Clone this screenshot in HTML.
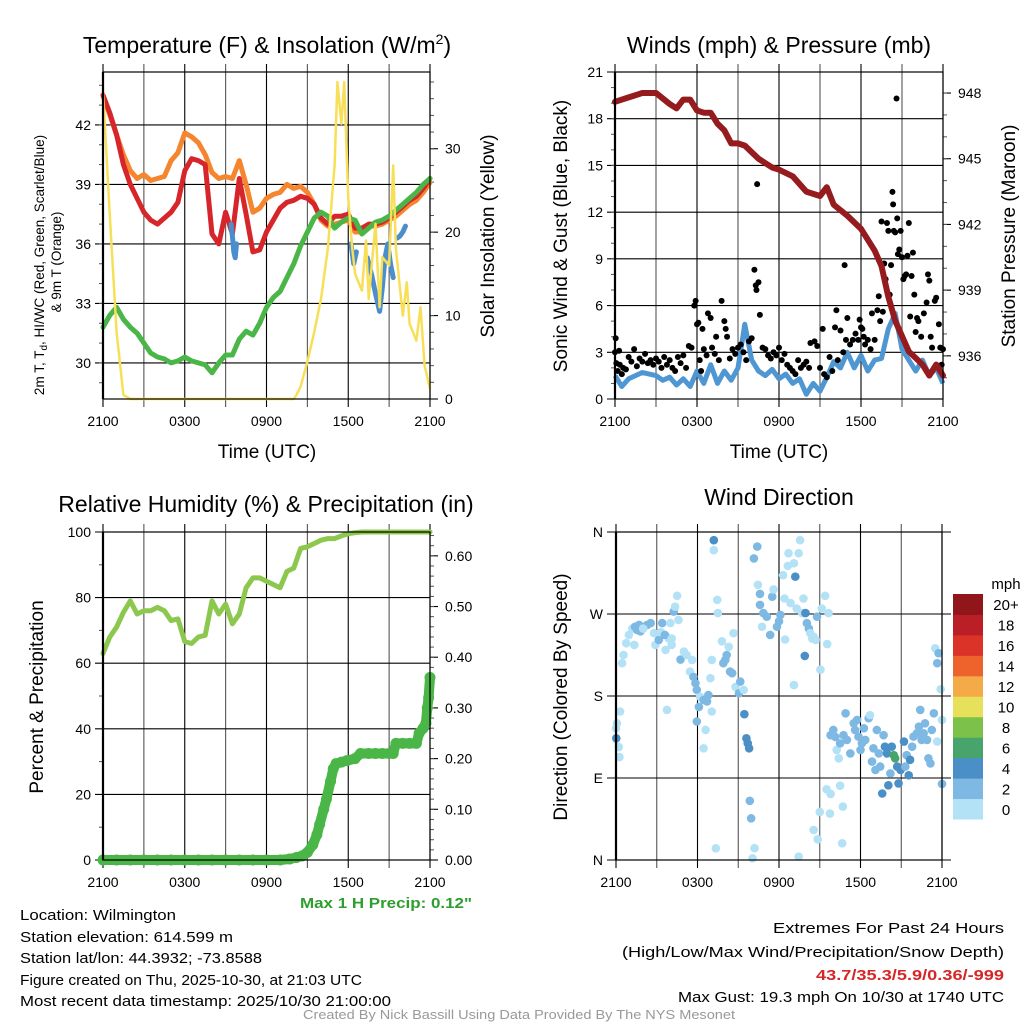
<!DOCTYPE html>
<html><head><meta charset="utf-8"><style>
html,body{margin:0;padding:0;background:#fff;}
svg{display:block;font-family:"Liberation Sans",sans-serif;}
.tk{font-size:14px;fill:#000;}
.ttl{font-size:23px;fill:#000;}
.ax{font-size:19px;fill:#000;}
.ft{font-family:"Liberation Sans Narrow","Liberation Sans",sans-serif;font-size:15px;fill:#000;}
</style></head><body>
<svg id="chart" width="1024" height="1024" viewBox="0 0 1024 1024" xmlns="http://www.w3.org/2000/svg">
<rect x="0" y="0" width="1024" height="1024" fill="#fff"/>
<g id="p1"></g>
<g id="p2"></g>
<g id="p3"></g>
<g id="p4"></g>

<text class="ttl" x="267" y="53" text-anchor="middle">Temperature (F) &amp; Insolation (W/m<tspan dy="-9" font-size="14">2</tspan><tspan dy="9">)</tspan></text>
<text class="ttl" x="779" y="53" text-anchor="middle">Winds (mph) &amp; Pressure (mb)</text>
<text class="ttl" x="266" y="512" text-anchor="middle">Relative Humidity (%) &amp; Precipitation (in)</text>
<text class="ttl" x="779" y="505" text-anchor="middle">Wind Direction</text>

<text class="ax" x="267" y="458" text-anchor="middle">Time (UTC)</text>
<text class="ax" x="779" y="458" text-anchor="middle">Time (UTC)</text>
<text font-size="13.5" text-anchor="middle" transform="translate(44,265) rotate(-90)">2m T, T<tspan font-size="10" dy="3">d</tspan><tspan dy="-3">, HI/WC (Red, Green, Scarlet/Blue)</tspan></text>
<text font-size="13.5" text-anchor="middle" transform="translate(61,262) rotate(-90)">&amp; 9m T (Orange)</text>
<text class="ax" text-anchor="middle" transform="translate(494,236) rotate(-90)">Solar Insolation (Yellow)</text>
<text class="ax" text-anchor="middle" transform="translate(567,236) rotate(-90)">Sonic Wind &amp; Gust (Blue, Black)</text>
<text class="ax" text-anchor="middle" transform="translate(1015,236) rotate(-90)">Station Pressure (Maroon)</text>
<text class="ax" text-anchor="middle" transform="translate(43,697) rotate(-90)">Percent &amp; Precipitation</text>
<text class="ax" text-anchor="middle" transform="translate(567,697) rotate(-90)">Direction (Colored By Speed)</text>

<text class="ft" x="386" y="908" text-anchor="middle" style="fill:#2e9e2e;font-weight:bold" textLength="172" lengthAdjust="spacingAndGlyphs">Max 1 H Precip: 0.12"</text>
<text class="ft" x="20" y="920" textLength="156" lengthAdjust="spacingAndGlyphs">Location: Wilmington</text>
<text class="ft" x="20" y="942" textLength="213" lengthAdjust="spacingAndGlyphs">Station elevation: 614.599 m</text>
<text class="ft" x="20" y="963" textLength="242" lengthAdjust="spacingAndGlyphs">Station lat/lon: 44.3932; -73.8588</text>
<text class="ft" x="20" y="985" textLength="342" lengthAdjust="spacingAndGlyphs">Figure created on Thu, 2025-10-30, at 21:03 UTC</text>
<text class="ft" x="20" y="1006" textLength="371" lengthAdjust="spacingAndGlyphs">Most recent data timestamp: 2025/10/30 21:00:00</text>
<text class="ft" x="773" y="933" textLength="231" lengthAdjust="spacingAndGlyphs">Extremes For Past 24 Hours</text>
<text class="ft" x="622" y="957" textLength="382" lengthAdjust="spacingAndGlyphs">(High/Low/Max Wind/Precipitation/Snow Depth)</text>
<text class="ft" x="816" y="980" style="fill:#d62728;font-weight:bold" textLength="188" lengthAdjust="spacingAndGlyphs">43.7/35.3/5.9/0.36/-999</text>
<text class="ft" x="678" y="1002" textLength="326" lengthAdjust="spacingAndGlyphs">Max Gust: 19.3 mph On 10/30 at 1740 UTC</text>
<text class="ft" x="303" y="1019" style="fill:#999;font-size:13px" textLength="432" lengthAdjust="spacingAndGlyphs">Created By Nick Bassill Using Data Provided By The NYS Mesonet</text>
</svg>
<script>
// ---------- data ----------
const xTickLabels = ["2100","0300","0900","1500","2100"];
const halfHours = Array.from({length:49},(_,i)=>i*0.5);
const temp2m = [43.5,42.6,41.5,40.0,39.0,38.3,37.6,37.2,37.0,37.3,37.6,38.1,39.7,40.3,40.2,40.0,36.5,36.0,37.6,36.5,39.3,37.5,35.6,35.7,36.6,37.2,37.8,38.1,38.2,38.4,38.3,38.0,37.3,37.0,37.4,37.4,37.5,36.8,36.8,37.0,37.0,37.1,37.3,37.6,37.9,38.2,38.4,38.8,39.3];
const temp9m = [43.5,42.5,41.5,40.5,39.7,39.3,39.5,39.2,39.3,39.4,40.2,40.6,41.6,41.4,41.1,40.5,39.6,39.3,39.4,39.3,40.2,39.0,37.6,37.8,38.3,38.5,38.6,39.0,38.8,38.9,38.6,38.0,37.2,36.9,37.0,37.1,37.2,36.6,36.6,36.9,36.9,37.0,37.2,37.4,37.7,38.0,38.2,38.6,39.1];
const dewpoint = [31.8,32.4,32.8,32.2,31.8,31.5,31.0,30.5,30.3,30.2,30.0,30.1,30.3,30.1,30.0,29.9,29.5,30.0,30.4,30.4,31.2,31.6,31.4,32.0,32.8,33.3,33.6,34.3,35.0,35.9,36.6,37.3,37.6,37.4,36.8,37.1,37.3,37.2,36.5,36.8,37.1,37.2,37.4,37.7,38.0,38.3,38.6,39.0,39.3];
const windChillHours1 = [9.4,9.5,9.6,9.7,9.8];
const windChill1 = [37.0,36.4,35.6,35.3,36.0];
const windChillHours2 = [18.2,18.4,18.6];
const windChill2 = [36.0,35.0,35.6];
const windChillHours3 = [19.4,19.7,20.0,20.3,20.5,20.7,20.9,21.1,21.3];
const windChill3 = [35.3,34.5,33.5,32.6,33.8,35.3,36.0,35.0,34.3];
const windChillHours4 = [21.6,21.8,22.0,22.2];
const windChill4 = [36.3,36.4,36.6,36.9];
const insolHours = [0,0.5,1,1.5,2,14,14.2,14.5,15,15.5,16,16.5,17,17.2,17.5,17.7,18,18.3,18.5,19,19.3,19.5,20,20.3,20.5,21,21.3,21.5,22,22.3,22.5,23,23.3,23.6,24];
const insolation = [37,22,8,0.5,0,0,0.5,1.5,4.5,8,12,18,28,38,33,38,24,18,15,13,19,12,21,11,17,16,28,18,10,14,9,7,11,4,1.2];
const windSpeed = [1.5,0.8,1.3,1.5,1.7,1.6,1.5,1.2,1.4,0.9,1.3,0.8,1.8,1.0,2.2,1.0,1.8,1.2,2.0,4.8,2.5,1.8,1.5,1.9,1.3,1.6,1.0,1.3,0.3,1.0,0.5,1.4,2.4,2.0,3.0,2.0,2.8,1.8,2.5,2.6,4.5,5.5,3.2,2.5,1.8,2.5,1.5,2.0,1.0];
const gustHours = [0,0.05,0.1,0.2,0.3,0.35,0.5,0.6,0.8,1.0,1.2,1.4,1.6,1.8,2.0,2.2,2.4,2.6,2.8,3.0,3.2,3.4,3.6,3.8,4.0,4.2,4.4,4.6,4.8,5.0,5.2,5.4,5.6,5.8,5.9,6.0,6.1,6.2,6.3,6.4,6.5,6.7,6.8,7.0,7.1,7.3,7.4,7.6,7.8,8.0,8.1,8.2,8.4,8.6,8.8,9.0,9.2,9.4,9.6,9.8,10.0,10.2,10.3,10.35,10.4,10.5,10.6,10.8,11.0,11.2,11.4,11.6,11.8,12.0,12.2,12.4,12.6,12.8,13.0,13.2,13.4,13.6,13.8,14.0,14.2,14.3,14.6,14.8,15.0,15.2,15.3,15.5,15.7,15.9,16.1,16.2,16.3,16.5,16.7,16.8,16.9,17.0,17.2,17.4,17.6,17.8,17.9,18.0,18.1,18.2,18.3,18.5,18.7,18.8,19.0,19.2,19.3,19.4,19.5,19.6,19.7,19.8,19.9,20.0,20.1,20.2,20.3,20.35,20.4,20.5,20.6,20.65,20.7,20.8,20.9,21.0,21.1,21.2,21.3,21.4,21.5,21.6,21.7,21.8,21.9,22.0,22.1,22.2,22.4,22.6,22.8,22.9,23.0,23.1,23.2,23.4,23.5,23.7,23.8,23.9,24.0];
const gusts = [3.0,3.9,2.3,1.8,3.1,2.2,1.6,2.0,1.9,2.7,2.4,3.2,2.1,2.6,2.4,2.9,2.3,2.5,2.2,2.6,2.4,2.0,2.7,2.2,2.5,2.0,1.8,2.7,2.3,2.8,2.0,3.4,3.3,6.0,6.3,4.8,4.9,2.5,1.8,4.5,3.2,2.8,5.5,5.2,3.3,2.9,4.0,2.5,6.3,5.0,4.5,4.0,2.6,3.2,2.9,3.3,3.5,3.0,2.5,3.7,3.9,8.3,7.3,7.0,13.8,7.5,5.4,3.3,3.2,2.8,2.6,3.0,2.8,3.3,2.5,2.9,2.2,2.0,1.8,1.6,2.5,2.0,2.2,2.4,2.0,3.6,3.7,3.4,2.0,4.5,1.6,1.4,2.7,1.8,4.6,5.7,2.5,4.4,3.0,8.6,3.8,5.2,3.5,3.8,4.2,3.8,5.1,4.6,4.5,4.0,3.5,3.8,3.2,5.5,3.8,5.7,6.6,5.0,11.4,5.6,8.7,7.7,11.3,10.8,6.7,8.6,13.3,12.5,10.8,10.7,19.3,11.6,9.3,9.6,10.8,9.1,7.7,7.9,8.0,9.2,11.3,5.3,7.9,9.4,6.7,4.3,5.2,5.0,4.0,5.5,6.2,8.0,7.6,4.0,3.3,6.3,6.5,4.8,3.3,2.2,3.2];
const pressureHours = [0,1,2,3,4,4.5,5,5.5,6,6.5,7,7.5,8,8.5,9,9.5,10,10.5,11,11.5,12,13,14,15,15.5,16,17,18,19,19.5,20,20.5,21,21.5,22,22.5,23,23.5,24];
const pressure = [947.6,947.8,948.0,948.0,947.5,947.3,947.7,947.7,947.2,947.1,947.1,946.6,946.3,945.7,945.7,945.6,945.3,945.0,944.8,944.6,944.5,944.2,943.5,943.3,943.7,942.9,942.4,941.8,940.8,940.1,938.7,937.6,936.9,936.2,935.9,935.6,935.1,935.6,935.1];
const humidity = [63,68,71,75.5,79,75,76,76,77,76,73,73.5,66.6,66,68,68.5,79,75,78,72,75,83,86,86,85,84,83,88,89,95,95.5,96.5,97.5,98,98,98.8,99.5,99.8,100,100,100,100,100,100,100,100,100,100,100];
const precipHours = [0,1,2,3,4,5,6,7,8,9,10,11,12,13,13.7,14.2,14.6,15.0,15.4,15.7,15.9,16.2,16.4,16.7,16.9,17.1,17.5,17.9,18.5,18.9,19.5,20,20.5,21,21.3,21.5,22,22.5,23,23.2,23.5,23.7,23.8,23.9,24.0];
const precip = [0,0,0,0,0,0,0,0,0,0,0,0,0,0,0.002,0.005,0.008,0.015,0.03,0.05,0.07,0.1,0.12,0.155,0.18,0.19,0.193,0.196,0.2,0.21,0.21,0.21,0.21,0.21,0.21,0.23,0.23,0.23,0.23,0.25,0.26,0.27,0.30,0.32,0.36];
const dirHours = [0,0.07,0.02,0.2,0.25,0.3,0.45,0.55,0.75,0.95,1.2,1.35,1.55,1.8,2.05,2.3,2.55,2.8,2.9,3.15,3.4,3.65,3.9,4.1,4.0,4.25,4.35,4.5,4.6,4.75,5.0,5.2,5.45,5.6,5.7,5.85,5.95,6.1,6.2,6.45,6.6,6.7,6.8,6.95,7.05,7.05,5.95,6.45,3.75,7.2,7.2,7.45,7.5,7.8,7.9,8.05,8.15,8.3,8.4,8.55,8.65,8.8,9.05,9.15,9.4,9.45,9.6,9.7,9.8,9.85,9.95,7.35,10.05,10.2,10.15,10.4,10.45,10.6,10.6,10.75,10.85,11.1,11.35,11.5,11.6,11.85,12.0,12.1,12.3,12.45,12.4,12.7,12.85,12.65,13.1,13.2,13.3,13.45,13.55,13.7,13.8,13.95,14.05,14.2,14.3,14.45,14.55,14.7,13.9,13.1,14.8,15.05,15.15,15.4,15.55,15.65,14.55,14.85,15.0,15.5,15.8,15.75,16.5,16.65,16.7,13.45,15.8,16.0,16.15,16.25,16.4,16.5,16.75,16.9,17.0,17.25,17.5,17.6,17.75,17.85,18.0,18.1,18.25,18.35,18.6,18.7,18.85,18.95,19.1,19.2,19.35,19.45,19.6,19.7,19.8,19.95,20.05,20.2,20.3,20.45,20.55,20.7,20.8,20.95,21.2,21.3,21.4,21.55,21.65,21.8,21.9,22.15,22.3,22.4,22.5,22.65,22.75,22.9,23.0,23.15,23.25,23.4,23.5,23.65,23.75,23.9,24.0,23.65,24.0,1.4,1.7,2.0,3.3,3.6,4.1];
const dirDegrees = [144.6,150,133.6,124,113,163,216,225,238,247,254,236,252.5,251,256,258,260,249,236,241.5,260,230.6,243,236,260,272.7,278,290,263.5,220,228.8,225,206.8,219.6,201,194,186.7,168,179,175.7,142.7,174,181,199.5,163,219.6,152,122.6,164.7,351,340,285.5,271,240,216,219.6,225,234,206.8,205,249,190,183,195.8,186.7,160,133.6,128,122.6,65,45.7,12.8,1.8,13,331,344,302,292,280,256,271,267,247,289,297,256,262,269,312.6,242,287,336.7,282,322.8,325.7,311,276,336.7,351,271,287,271,260,254,249,243,245,241.5,224,192,267,209,276,290,237,271,33,22.7,52.7,77.6,72.5,51,81.6,18.3,58.6,3.7,137,142.7,135,120.8,111.6,128,137,161,131.8,117,150,142.7,153.7,135.4,120.8,128,144.6,131.8,155.6,159,108,122.6,98.8,142.7,117,102.5,73,137,124.4,117,82,95,124.4,115,111.6,102.5,84,98.8,130,102.5,115,93,110,124.4,135.4,139,146.4,164.7,131.8,139,150,131.8,111.6,106,142.7,161,232.4,216,227,187.4,153.7,130,83.5,256,258,254,250,247,243];
const dirSpeed = [1,1,5,1,1,1,1,1,1,1,1,1,3,3,3,3,3,1,1,3,3,1,1,1,1,3,1,1,1,3,1,1,1,1,3,3,3,3,1,3,1,3,3,1,1,1,3,1,1,5,1,1,1,1,3,3,3,1,3,3,1,1,3,3,1,5,5,5,5,3,3,1,1,1,3,3,1,3,3,1,3,3,3,3,1,3,3,3,1,1,1,1,1,1,1,5,1,1,1,1,1,5,3,3,1,1,1,1,5,1,3,1,1,1,1,1,1,1,1,1,1,1,1,1,1,1,3,3,3,1,1,3,3,3,3,3,3,3,3,3,3,3,3,3,3,1,3,3,3,3,3,3,5,3,5,5,5,3,5,7,7,5,5,5,5,3,3,5,5,3,3,3,3,3,3,3,3,3,3,3,3,3,1,3,3,1,1,1,3,3,3,1,1,3];
const speedBinLabels = ["0","2","4","6","8","10","12","14","16","18","20+"];
const speedBinColors = ["#b3e2f7","#7eb9e4","#4a8fc6","#47a56c","#7cc24a","#e6e05a","#f5aa48","#ee632c","#dc3328","#ba1e26","#911619"];

// ---------- helpers ----------
const NS="http://www.w3.org/2000/svg";
function mk(tag,parent,attrs){const e=document.createElementNS(NS,tag);for(const k in attrs)e.setAttribute(k,attrs[k]);parent.appendChild(e);return e;}
function scale(d0,d1,r0,r1){return v=>r0+(v-d0)/(d1-d0)*(r1-r0);}
function linePath(xs,ys,fx,fy){return xs.map((h,i)=>(i?"L":"M")+fx(h).toFixed(1)+" "+fy(ys[i]).toFixed(1)).join(" ");}

function frame(g,P,name){
  const hx=scale(0,24,P.L,P.R);
  for(let h=0;h<=24;h+=3){
    const ln=mk("line",g,{x1:hx(h),x2:hx(h),y1:P.T-8,y2:P.B+8,stroke:(h%6===0)?"#000":"#555","stroke-width":1.1});
    
    
  }
  xTickLabels.forEach((s,i)=>{
    const t=mk("text",g,{x:hx(i*6),y:P.B+27,"text-anchor":"middle",class:"tk"});t.textContent=s;
    
    
  });
  return hx;
}
function yAxis(g,P,vals,fy,labels,side,name,minor,extL,extR){
  vals.forEach((v,i)=>{
    if(side==="left"){
      const ln=mk("line",g,{x1:P.L-(extL||8),x2:P.R+(extR||0),y1:fy(v),y2:fy(v),stroke:"#000","stroke-width":1.1});
      
      
      const t=mk("text",g,{x:P.L-(extL||8)-4,y:fy(v)+5,"text-anchor":"end",class:"tk"});t.textContent=labels[i];
      
      
    } else {
      const ln=mk("line",g,{x1:P.R,x2:P.R+8,y1:fy(v),y2:fy(v),stroke:"#000","stroke-width":1.1});
      
      
      const t=mk("text",g,{x:P.R+15,y:fy(v)+5,"text-anchor":"start",class:"tk"});t.textContent=labels[i];
      
      
    }
  });
  (minor||[]).forEach(v=>{
    const x1=side==="left"?P.L-4:P.R, x2=side==="left"?P.L:P.R+4;
    const ln=mk("line",g,{x1,x2,y1:fy(v),y2:fy(v),stroke:"#555","stroke-width":1});
    
    
  });
}
function border(g,P,name){
  const r=mk("rect",g,{x:P.L,y:P.T,width:P.R-P.L,height:P.B-P.T,fill:"none",stroke:"#000","stroke-width":1.2});
  
  
  const l=mk("line",g,{x1:P.L,x2:P.L,y1:P.T,y2:P.B,stroke:"#000","stroke-width":2.2});
  
  
}
function rng(a,b,s){const o=[];for(let v=a;v<=b+1e-9;v+=s)o.push(+v.toFixed(4));return o;}

// ---------- panel 1 ----------
{
  const g=document.getElementById("p1");
  const P={L:103,R:430,T:72,B:399};
  const hx=frame(g,P,"temp");
  const fy=scale(28.18,44.67,P.B,P.T);
  const fi=scale(0,39.2,P.B,P.T);
  yAxis(g,P,[30,33,36,39,42],fy,["30","33","36","39","42"],"left","temp-y",rng(29,44,1));
  yAxis(g,P,[0,10,20,30],fi,["0","10","20","30"],"right","insolation-y",rng(2,38,2));
  const series=[[halfHours,temp9m,"#f5862f","line-9m-temp"],[halfHours,temp2m,"#d7262b","line-2m-temp"],[halfHours,dewpoint,"#4bb648","line-dewpoint"]];
  series.forEach(s=>{
    const p=mk("path",g,{d:linePath(s[0],s[1],hx,fy),fill:"none",stroke:s[2],"stroke-width":5,"stroke-linejoin":"round","stroke-linecap":"round"});
    
    
  });
  [[windChillHours1,windChill1],[windChillHours2,windChill2],[windChillHours3,windChill3],[windChillHours4,windChill4]].forEach(s=>{
    const p=mk("path",g,{d:linePath(s[0],s[1],hx,fy),fill:"none",stroke:"#4a8fcc","stroke-width":5,"stroke-linejoin":"round","stroke-linecap":"round"});
    
    
  });
  const ins=mk("path",g,{d:linePath(insolHours,insolation,hx,fi),fill:"none",stroke:"#f8df58","stroke-width":2.5,"stroke-linejoin":"round"});
  
  
  border(g,P,"temp");
}
// ---------- panel 2 ----------
{
  const g=document.getElementById("p2");
  const P={L:615,R:943,T:72,B:399};
  const hx=frame(g,P,"wind");
  const fy=scale(0,21,P.B,P.T);
  const fp=scale(934.03,948.96,P.B,P.T);
  yAxis(g,P,[0,3,6,9,12,15,18,21],fy,["0","3","6","9","12","15","18","21"],"left","wind-y",rng(1,20,1));
  yAxis(g,P,[936,939,942,945,948],fp,["936","939","942","945","948"],"right","pressure-y",rng(935,948,1));
  const w=mk("path",g,{d:linePath(halfHours,windSpeed,hx,fy),fill:"none",stroke:"#4f97d3","stroke-width":5,"stroke-linejoin":"round"});
  
  
  gustHours.forEach((h,i)=>{
    const c=mk("circle",g,{cx:hx(h),cy:fy(gusts[i]),r:3,fill:"#000"});
    
    
  });
  const pr=mk("path",g,{d:linePath(pressureHours,pressure,hx,fp),fill:"none",stroke:"#951b1e","stroke-width":6,"stroke-linejoin":"round","stroke-linecap":"round"});
  
  
  border(g,P,"wind");
}
// ---------- panel 3 ----------
{
  const g=document.getElementById("p3");
  const P={L:103,R:430,T:532,B:860};
  const hx=frame(g,P,"humidity");
  const fy=scale(0,100,P.B,P.T);
  const fq=scale(0,0.647,P.B,P.T);
  yAxis(g,P,[0,20,40,60,80,100],fy,["0","20","40","60","80","100"],"left","humidity-y",rng(10,90,20));
  yAxis(g,P,[0,0.1,0.2,0.3,0.4,0.5,0.6],fq,["0.00","0.10","0.20","0.30","0.40","0.50","0.60"],"right","precip-y",rng(0.02,0.64,0.02));
  const rh=mk("path",g,{d:linePath(halfHours,humidity,hx,fy),fill:"none",stroke:"#8cc84e","stroke-width":5,"stroke-linejoin":"round","stroke-linecap":"round"});
  
  
  const pl=mk("path",g,{d:linePath(precipHours,precip,hx,fq),fill:"none",stroke:"#4ab647","stroke-width":10,"stroke-linejoin":"round","stroke-linecap":"round"});
  
  
  precipHours.forEach((h,i)=>{
    const c=mk("circle",g,{cx:hx(h),cy:fq(precip[i]),r:5.5,fill:"#4ab647"});
    
    
  });
  border(g,P,"humidity");
}
// ---------- panel 4 ----------
{
  const g=document.getElementById("p4");
  const P={L:616,R:942,T:532,B:860};
  const hx=frame(g,P,"direction");
  const fy=scale(0,360,P.B,P.T);
  yAxis(g,P,[0,90,180,270,360],fy,["N","E","S","W","N"],"left","direction-y",[],9,9);
  function colorFor(s){if(!(s>=0))s=1;let i=Math.floor(s/2);if(i>10)i=10;return speedBinColors[i];}
  dirHours.forEach((h,i)=>{
    const c=mk("circle",g,{cx:hx(h),cy:fy(dirDegrees[i]),r:4.3,fill:colorFor(dirSpeed[i])});
    
    
  });
  border(g,P,"direction");
  const cb=mk("g",g,{});
  
  
  const top=594,bh=(819-594)/11;
  speedBinColors.forEach((col,i)=>{
    const y=top+(10-i)*bh;
    const r=mk("rect",cb,{x:953,y:y,width:30,height:bh+0.5,fill:col});
    
    
    const t=mk("text",cb,{x:1006,y:y+bh/2+6,"text-anchor":"middle",class:"tk",style:"font-size:15px"});t.textContent=speedBinLabels[i];
    
    
  });
  const u=mk("text",cb,{x:1006,y:589,"text-anchor":"middle",class:"tk",style:"font-size:15px"});u.textContent="mph";
  
  
}
</script>
</body></html>
